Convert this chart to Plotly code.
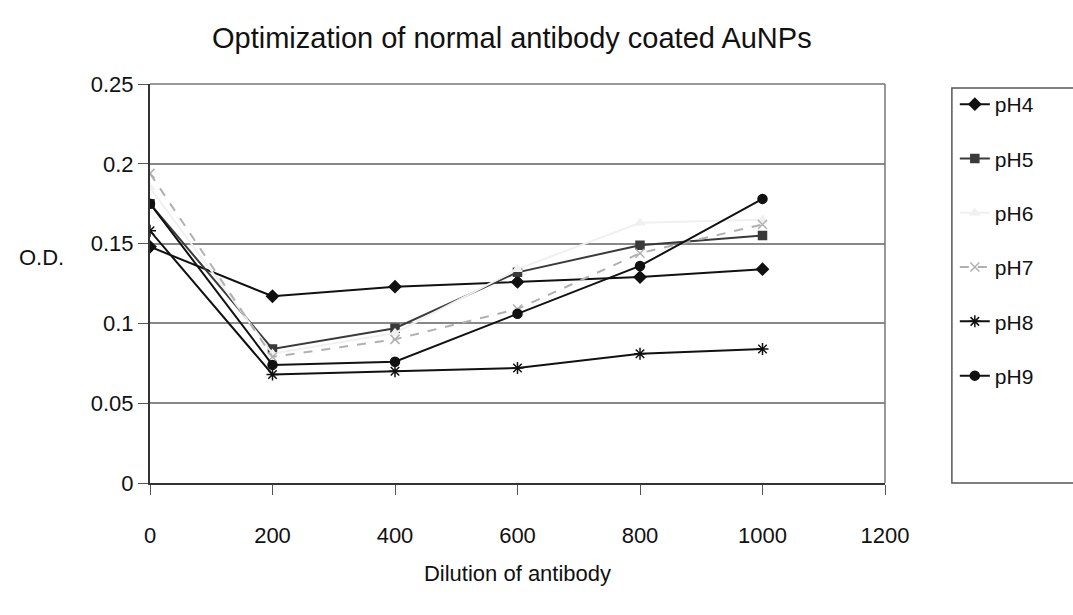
import plotly.graph_objects as go

dilution = [0, 200, 400, 600, 800, 1000]
ph4 = [0.148, 0.117, 0.123, 0.126, 0.129, 0.134]
ph5 = [0.175, 0.084, 0.097, 0.132, 0.149, 0.155]
ph6 = [0.185, 0.081, 0.094, 0.134, 0.163, 0.165]
ph7 = [0.194, 0.079, 0.090, 0.109, 0.144, 0.162]
ph8 = [0.158, 0.068, 0.070, 0.072, 0.081, 0.084]
ph9 = [0.175, 0.074, 0.076, 0.106, 0.136, 0.178]

series = [
    ("pH4", ph4, "#111111", "diamond", 9, "solid"),
    ("pH5", ph5, "#3a3a3a", "square", 8, "solid"),
    ("pH6", ph6, "#f0f0f0", "triangle-up", 8, "solid"),
    ("pH7", ph7, "#b0b0b0", "x-thin-open", 9, "dash"),
    ("pH8", ph8, "#111111", "asterisk-open", 10, "solid"),
    ("pH9", ph9, "#111111", "circle", 9, "solid"),
]

fig = go.Figure()
for name, ys, col, sym, size, dash in series:
    fig.add_trace(go.Scatter(
        x=dilution, y=ys, name=name, mode="lines+markers",
        legendgroup=name,
        line=dict(color=col, width=2, dash=dash),
        marker=dict(symbol=sym, size=size, color=col,
                    line=dict(color=col, width=1.5)),
    ))

FONT = "Liberation Sans, Arial, sans-serif"
fig.update_layout(
    width=1073, height=615,
    margin=dict(l=150, r=188, t=84, b=132),
    paper_bgcolor="white", plot_bgcolor="white",
    font=dict(family=FONT, size=21, color="#111"),
    title=dict(text="Optimization of normal antibody coated AuNPs",
               x=0.477, xanchor="center", y=0.938, yanchor="middle",
               font=dict(size=29, family=FONT, color="#111")),
    showlegend=True,
    legend=dict(x=1.095, xanchor="left", y=1.0, yanchor="top",
                borderwidth=0, bgcolor="rgba(0,0,0,0)",
                tracegroupgap=24, font=dict(size=21),
                itemwidth=30),
)
fig.update_xaxes(range=[0, 1200], dtick=200, tick0=0,
                 showline=True, linecolor="#333", linewidth=2,
                 mirror=False, showgrid=False, zeroline=False,
                 ticks="outside", ticklen=10, tickcolor="#555",
                 ticklabelstandoff=22,
                 title=dict(text="Dilution of antibody", standoff=18,
                            font=dict(size=22)),
                 tickfont=dict(size=22))
fig.update_yaxes(range=[0, 0.25], dtick=0.05, tick0=0,
                 showline=True, linecolor="#333", linewidth=2,
                 showgrid=True, gridcolor="#888", gridwidth=1.5,
                 zeroline=False,
                 ticks="outside", ticklen=10, tickcolor="#555",
                 tickformat="~g", ticklabelstandoff=0,
                 tickfont=dict(size=22))
# plot frame on top/right
fig.add_shape(type="line", xref="paper", yref="paper", x0=1, x1=1, y0=0, y1=1,
              line=dict(color="#777", width=1.5))
fig.add_shape(type="line", xref="paper", yref="paper", x0=0, x1=1, y0=1, y1=1,
              line=dict(color="#777", width=1.5))
# legend frame
fig.add_shape(type="rect", xref="paper", yref="paper",
              x0=1.091, x1=1.32, y0=0.0, y1=0.99,
              line=dict(color="#555", width=1.5), fillcolor="rgba(0,0,0,0)",
              layer="below")
fig.add_annotation(text="O.D.", xref="paper", yref="paper", x=-0.148, y=0.565,
                   xanchor="center", yanchor="middle", showarrow=False,
                   font=dict(size=22, family=FONT))

fig.write_html("out.html")
